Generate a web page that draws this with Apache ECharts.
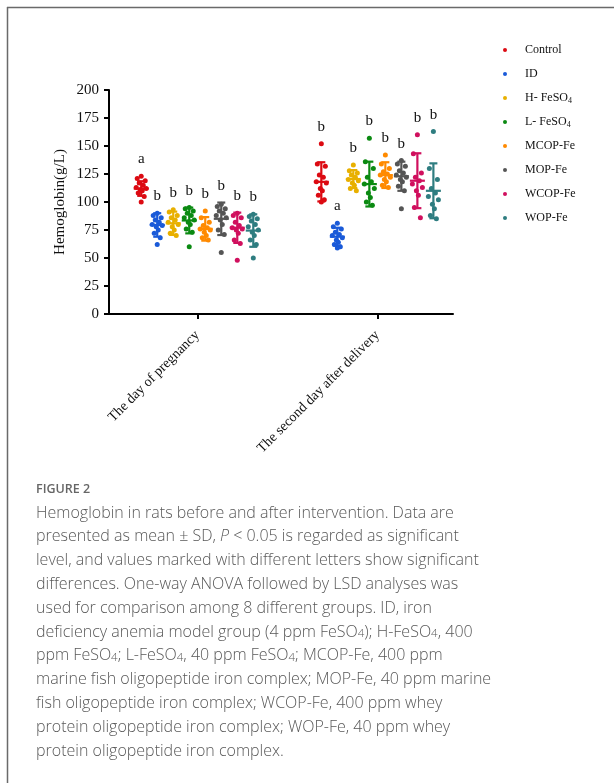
<!DOCTYPE html>
<html>
<head>
<meta charset="utf-8">
<script src="https://cdn.jsdelivr.net/npm/echarts@6/dist/echarts.min.js"></script>
<style>
html,body{margin:0;padding:0;background:#fff;}
#c{width:614px;height:783px;}
</style>
</head>
<body>
<div id="c"></div>
<script>
// ---- data ----
const categories = ['The day of pregnancy', 'The second day after delivery'];
const groups = ['Control', 'ID', 'H- FeSO4', 'L- FeSO4', 'MCOP-Fe', 'MOP-Fe', 'WCOP-Fe', 'WOP-Fe'];
const colors = ['#dc0a12', '#1a5ad8', '#e8b000', '#0b8a12', '#ff8a00', '#555555', '#d0105e', '#2e7d80'];
const yTicks = [0, 25, 50, 75, 100, 125, 150, 175, 200];

// individual values, day of pregnancy
const control1 = [123, 121, 119, 117, 115, 113, 112, 111, 110, 108, 105, 100];
const id1 = [90, 88, 86, 84, 82, 80, 79, 78, 75, 72, 68, 62];
const h1 = [93, 91, 88, 86, 84, 82, 80, 78, 75, 72, 70];
const l1 = [95, 94, 92, 90, 88, 86, 84, 82, 80, 76, 73, 60];
const mcop1 = [92, 86, 82, 79, 77, 76, 75, 73, 70, 68, 66];
const mop1 = [98, 96, 94, 92, 90, 88, 86, 84, 80, 75, 71, 55];
const wcop1 = [90, 88, 86, 82, 79, 77, 76, 75, 72, 66, 63, 48];
const wop1 = [89, 87, 85, 83, 80, 78, 75, 73, 70, 66, 62, 50];
// individual values, second day after delivery
const control2 = [152, 134, 132, 124, 122, 118, 117, 112, 110, 106, 102, 100];
const id2 = [81, 78, 76, 73, 71, 70, 68, 66, 64, 62, 60, 59];
const h2 = [133, 128, 126, 124, 122, 120, 119, 117, 115, 112, 110];
const l2 = [157, 136, 130, 122, 118, 116, 112, 108, 104, 100, 97];
const mcop2 = [142, 134, 130, 127, 125, 124, 122, 120, 118, 115, 113];
const mop2 = [137, 134, 132, 128, 126, 124, 122, 120, 118, 114, 110, 94];
const wcop2 = [160, 143, 126, 122, 119, 116, 113, 110, 106, 95, 86];
const wop2 = [163, 130, 120, 112, 108, 105, 102, 98, 94, 88, 85];

const mean1 = [112, 79.5, 81, 83.5, 76, 85, 77, 74.5];
const sd1 = [6.5, 10.5, 10.4, 11.5, 10.5, 14.5, 13.5, 14.5];
const mean2 = [118, 69, 120.5, 116, 124, 123, 119, 110];
const sd2 = [17.5, 8, 8, 20, 11.5, 13, 24.5, 24.5];
const letters1 = ['a', 'b', 'b', 'b', 'b', 'b', 'b', 'b'];
const letters2 = ['b', 'a', 'b', 'b', 'b', 'b', 'b', 'b'];

const points = [
  [control1, id1, h1, l1, mcop1, mop1, wcop1, wop1],
  [control2, id2, h2, l2, mcop2, mop2, wcop2, wop2]
];
const means = [mean1, mean2];
const sds = [sd1, sd2];
const letters = [letters1, letters2];

const captionLines = [
  'Hemoglobin in rats before and after intervention. Data are',
  'presented as mean \u00b1 SD, {i|P} < 0.05 is regarded as significant',
  'level, and values marked with different letters show significant',
  'differences. One-way ANOVA followed by LSD analyses was',
  'used for comparison among 8 different groups. ID, iron',
  'deficiency anemia model group (4 ppm FeSO{s|4}); H-FeSO{s|4}, 400',
  'ppm FeSO{s|4}; L-FeSO{s|4}, 40 ppm FeSO{s|4}; MCOP-Fe, 400 ppm',
  'marine fish oligopeptide iron complex; MOP-Fe, 40 ppm marine',
  'fish oligopeptide iron complex; WCOP-Fe, 400 ppm whey',
  'protein oligopeptide iron complex; WOP-Fe, 40 ppm whey',
  'protein oligopeptide iron complex.'
];

// ---- layout helpers (pixel offsets converted to axis units: 180 px per category) ----
const UNIT = 1 / 180;
const SERIES_STEP = 16 * UNIT;
const JIT = [0, -4, 4, -2, 2, -5, 5, -1, 1, -3, 3, 0];
const SERIF = '"Liberation Serif", "Times New Roman", serif';

function xPos(g, i) { return g + (i - 3.5) * SERIES_STEP; }

const series = [];
groups.forEach((name, i) => {
  const pts = [];
  for (let g = 0; g < 2; g++) {
    points[g][i].forEach((v, k) => pts.push([xPos(g, i) + JIT[k % JIT.length] * UNIT, v]));
  }
  series.push({
    type: 'scatter', name: name, data: pts, symbol: 'circle', symbolSize: 5,
    itemStyle: { color: colors[i], opacity: 1 }, z: 3, silent: true
  });
});
groups.forEach((name, i) => {
  const bars = [];
  for (let g = 0; g < 2; g++) {
    const top = Math.max(Math.max.apply(null, points[g][i]), means[g][i] + sds[g][i]);
    bars.push([xPos(g, i), means[g][i], sds[g][i], top + 15, letters[g][i]]);
  }
  series.push({
    type: 'custom', name: name, data: bars, z: 4, silent: true,
    encode: { x: 0, y: 1 },
    renderItem: function (params, api) {
      const x = api.value(0), m = api.value(1), s = api.value(2), ly = api.value(3);
      const c = api.coord([x, m]);
      const t = api.coord([x, m + s]);
      const b = api.coord([x, m - s]);
      const l = api.coord([x, ly]);
      const st = { stroke: colors[i], lineWidth: 2.2 };
      return {
        type: 'group',
        children: [
          { type: 'line', shape: { x1: c[0], y1: t[1], x2: c[0], y2: b[1] }, style: st },
          { type: 'line', shape: { x1: c[0] - 4, y1: t[1], x2: c[0] + 4, y2: t[1] }, style: st },
          { type: 'line', shape: { x1: c[0] - 4, y1: b[1], x2: c[0] + 4, y2: b[1] }, style: st },
          { type: 'line', shape: { x1: c[0] - 7.5, y1: c[1], x2: c[0] + 7.5, y2: c[1] }, style: st },
          { type: 'text', x: c[0], y: l[1], style: {
              text: api.value(4), fill: '#111', font: '15px ' + SERIF,
              align: 'center', verticalAlign: 'middle' } }
        ]
      };
    }
  });
});

const graphics = [
  { type: 'line', shape: { x1: 7.5, y1: 7, x2: 7.5, y2: 783 }, style: { stroke: '#6a6a6a', lineWidth: 1.5 } },
  { type: 'line', shape: { x1: 7, y1: 7.5, x2: 614, y2: 7.5 }, style: { stroke: '#6a6a6a', lineWidth: 1.5 } },
  { type: 'text', left: 36, top: 483, style: { text: 'FIGURE 2', fill: '#666', font: '600 12.5px "Open Sans", sans-serif' } }
];
captionLines.forEach((line, k) => {
  graphics.push({
    type: 'text', left: 36, top: 505 + k * 23.8,
    style: {
      text: line, fill: '#585858', font: '300 16px "Open Sans", sans-serif',
      rich: {
        i: { fontStyle: 'italic', fontSize: 16, fontFamily: '"Open Sans"', fontWeight: 300, fill: '#585858' },
        s: { fontSize: 11.5, fontFamily: '"Open Sans"', fontWeight: 300, fill: '#585858', padding: [4, 0, 0, 0] }
      }
    }
  });
});

const chart = echarts.init(document.getElementById('c'), null, { renderer: 'canvas' });
chart.setOption({
  animation: false,
  backgroundColor: '#fff',
  grid: { left: 109, top: 90, width: 344, bottom: 469 },
  legend: {
    data: groups, orient: 'vertical', left: 498, top: 38,
    icon: 'circle', itemWidth: 30, itemHeight: 4, itemGap: 10,
    selectedMode: false,
    formatter: n => n.replace('FeSO4', 'FeSO{s|4}'),
    textStyle: {
      fontFamily: SERIF, fontSize: 12, color: '#111', lineHeight: 14,
      rich: { s: { fontFamily: SERIF, fontSize: 8, color: '#111', padding: [5, 0, 0, 0], lineHeight: 14 } }
    }
  },
  xAxis: {
    type: 'value', min: -0.49, max: 1.42,
    splitLine: { show: false },
    axisLine: { show: true, onZero: false, lineStyle: { color: '#000', width: 2 } },
    axisTick: { show: true, customValues: [0, 1], length: 5, lineStyle: { color: '#000', width: 2 } },
    axisLabel: {
      customValues: [0, 1], rotate: 45, margin: 19,
      formatter: v => categories[Math.round(v)] || '',
      fontFamily: SERIF, fontSize: 14, color: '#111'
    }
  },
  yAxis: {
    type: 'value', min: 0, max: 200, interval: 25,
    name: 'Hemoglobin(g/L)', nameLocation: 'middle', nameGap: 41, nameMoveOverlap: false,
    nameTextStyle: { fontFamily: SERIF, fontSize: 15, color: '#111' },
    splitLine: { show: false },
    axisLine: { show: true, onZero: false, lineStyle: { color: '#000', width: 2 } },
    axisTick: { show: true, length: 5, lineStyle: { color: '#000', width: 2 } },
    axisLabel: {
      margin: 10, fontFamily: SERIF, fontSize: 15, color: '#111',
      formatter: v => (yTicks.indexOf(v) >= 0 ? String(v) : '')
    }
  },
  series: series,
  graphic: graphics
});
</script>
</body>
</html>
